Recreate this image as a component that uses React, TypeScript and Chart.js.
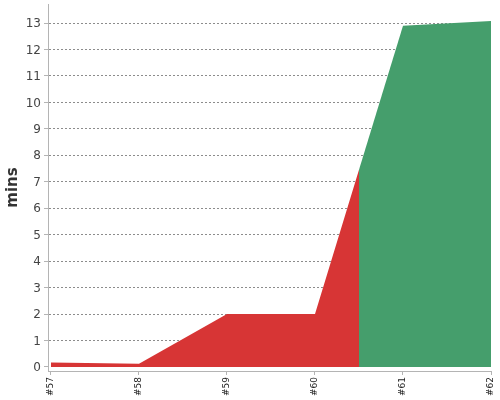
import React, { useEffect, useRef } from "react";
import { Chart, registerables } from "chart.js";

Chart.register(...registerables);

const builds = [57, 58, 59, 60, 61, 62];
const buildLabels = ["#57", "#58", "#59", "#60", "#61", "#62"];
const yTicks = [0, 1, 2, 3, 4, 5, 6, 7, 8, 9, 10, 11, 12, 13];

// failed segment (red)
const failedX = [57, 58, 59, 60, 60.5];
const failedY = [0.17, 0.12, 2, 2, 7.45];
// successful segment (green)
const successX = [60.5, 61, 62];
const successY = [7.45, 12.9, 13.08];

const RED = "#d73535";
const GREEN = "#459e6c";

export default function App() {
  const ref = useRef<HTMLCanvasElement | null>(null);
  useEffect(() => {
    document.body.style.margin = "0";
    if (!ref.current) return;
    const chart = new Chart(ref.current, {
      type: "line",
      data: {
        datasets: [
          {
            data: failedX.map((x, i) => ({ x, y: failedY[i] })),
            backgroundColor: RED,
            borderColor: RED,
            borderWidth: 0,
            pointRadius: 0,
            fill: "origin",
            tension: 0,
          },
          {
            data: successX.map((x, i) => ({ x, y: successY[i] })),
            backgroundColor: GREEN,
            borderColor: GREEN,
            borderWidth: 0,
            pointRadius: 0,
            fill: "origin",
            tension: 0,
          },
        ],
      },
      options: {
        animation: false,
        responsive: true,
        maintainAspectRatio: false,
        layout: { padding: { top: 4, right: 9, left: 0, bottom: 0 } },
        plugins: { legend: { display: false }, tooltip: { enabled: false } },
        scales: {
          x: {
            type: "linear",
            min: 57 - 3 / 88,
            max: 62,
            afterBuildTicks: (s: any) => {
              s.ticks = builds.map((v) => ({ value: v }));
            },
            afterFit: (s: any) => {
              s.height = 29;
              s.paddingLeft = 0;
              s.paddingRight = 0;
            },
            ticks: {
              autoSkip: false,
              minRotation: 90,
              maxRotation: 90,
              padding: 2,
              color: "#222",
              font: { family: "DejaVu Sans", size: 9 },
              callback: (v: any) => {
                const i = builds.indexOf(Number(v));
                return i >= 0 ? buildLabels[i] : null;
              },
            },
            grid: {
              drawOnChartArea: false,
              drawTicks: true,
              tickLength: 4,
              color: "#b4b4b4",
            },
            border: { color: "#b4b4b4", width: 1 },
          },
          y: {
            type: "linear",
            min: -4 / 26.46,
            max: 13 + 19 / 26.46,
            z: 1,
            afterBuildTicks: (s: any) => {
              s.ticks = yTicks.map((v) => ({ value: v }));
            },
            afterFit: (s: any) => {
              s.width = 48;
              s.paddingTop = 0;
              s.paddingBottom = 0;
            },
            ticks: {
              padding: 3,
              labelOffset: 1,
              color: "#444",
              font: { family: "DejaVu Sans", size: 12 },
            },
            grid: {
              drawTicks: true,
              tickLength: 4,
              tickColor: "#b4b4b4",
              color: (ctx: any) =>
                ctx.tick && ctx.tick.value === 0 ? "rgba(0,0,0,0)" : "rgba(0,0,0,0.45)",
              lineWidth: 1,
            },
            border: { color: "#b4b4b4", width: 1, dash: [2, 2] },
            title: {
              display: true,
              text: "mins",
              color: "#333",
              font: { family: "DejaVu Sans", size: 15, weight: "bold" },
              padding: { top: 4, bottom: 0 },
            },
          },
        },
      },
    });
    return () => chart.destroy();
  }, []);
  return (
    <div style={{ position: "absolute", left: 0, top: 0, width: 500, height: 400 }}>
      <canvas ref={ref} />
    </div>
  );
}
